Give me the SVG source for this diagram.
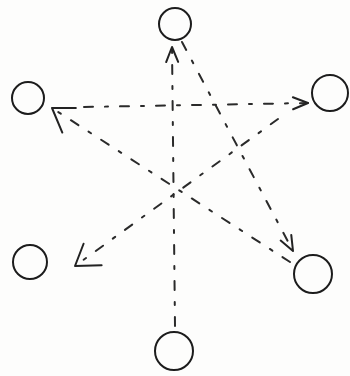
<svg xmlns="http://www.w3.org/2000/svg" width="350" height="376" viewBox="0 0 350 376">
  <style>
    .node { fill: none; stroke: #1c1c1c; stroke-width: 2; }
    .edge { fill: none; stroke: #2a2a2a; stroke-width: 2; stroke-linecap: round; stroke-dasharray: 9 12 3 12; }
    .head { fill: none; stroke: #222; stroke-width: 2; stroke-linecap: round; stroke-linejoin: round; }
  </style>
  <defs>
    <marker id="arrow" markerUnits="userSpaceOnUse" markerWidth="30" markerHeight="30" viewBox="-20 -15 30 30" refX="0" refY="0" orient="auto">
      <path class="head" d="M-15,-6 L0,0 L-15,6"/>
    </marker>
    <marker id="arrowWide" markerUnits="userSpaceOnUse" markerWidth="50" markerHeight="50" viewBox="-30 -25 50 50" refX="0" refY="0" orient="auto">
      <path class="head" d="M-22,-15 L0,0 L-20,13"/>
    </marker>
  </defs>
  <rect width="350" height="376" fill="#fdfdfc"/>
  <g id="connectors">
    <line class="edge" x1="175" y1="326" x2="172" y2="47" marker-end="url(#arrow)"/>
    <line class="edge" x1="182" y1="42" x2="293" y2="251" marker-end="url(#arrow)"/>
    <line class="edge" x1="84" y1="107" x2="308" y2="103" marker-end="url(#arrow)"/>
    <line class="edge" x1="290" y1="262" x2="52" y2="108" marker-end="url(#arrowWide)"/>
    <line class="edge" x1="278" y1="119" x2="75" y2="266" marker-end="url(#arrowWide)"/>
  </g>
  <g id="node-top"><circle class="node" cx="175" cy="24" r="16"/></g>
  <g id="node-left"><circle class="node" cx="28" cy="98" r="16"/></g>
  <g id="node-right"><circle class="node" cx="330" cy="93" r="18"/></g>
  <g id="node-bottom-left"><circle class="node" cx="30" cy="262" r="17"/></g>
  <g id="node-bottom-right"><circle class="node" cx="313" cy="274" r="19"/></g>
  <g id="node-bottom"><circle class="node" cx="174" cy="351" r="19"/></g>
</svg>
